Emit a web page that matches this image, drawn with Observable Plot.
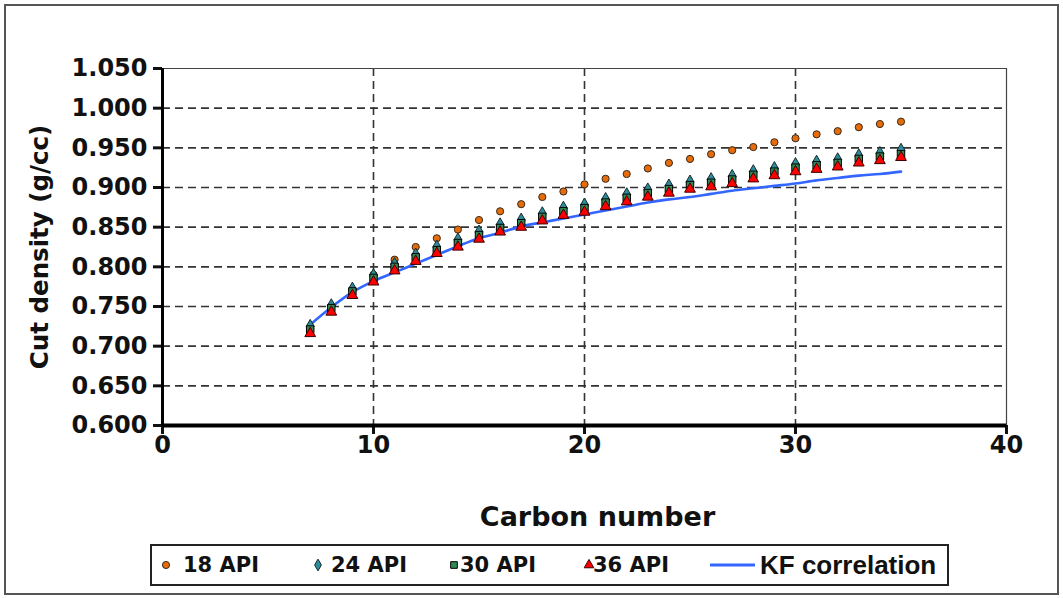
<!DOCTYPE html>
<html>
<head>
<meta charset="utf-8">
<script src="https://cdn.jsdelivr.net/npm/d3@7"></script>
<script src="https://cdn.jsdelivr.net/npm/@observablehq/plot@0.6"></script>
<style>
  html, body { margin: 0; padding: 0; background: #fff; }
  #wrap { position: relative; width: 1063px; height: 598px; }
  #frame { position: absolute; left: 4px; top: 4px; width: 1051px; height: 587px; border: 2px solid #555; }
  #chart { position: absolute; left: 0; top: 0; }
  #legend { position: absolute; left: 150px; top: 544px; width: 795px; height: 38px; border: 2px solid #222; background: #fff; }
  .sym { position: absolute; top: 11px; }
  .lab { position: absolute; top: 0; height: 38px; line-height: 38px; font-weight: bold; color: #111; white-space: nowrap; }
</style>
</head>
<body>
<div id="wrap">
  <div id="frame"></div>
  <div id="chart"></div>
  <div id="legend"></div>
</div>
<script>
const carbon = [7, 8, 9, 10, 11, 12, 13, 14, 15, 16, 17, 18, 19, 20, 21, 22, 23, 24, 25, 26, 27, 28, 29, 30, 31, 32, 33, 34, 35];
const api18 = [0.722, 0.750, 0.771, 0.790, 0.809, 0.825, 0.836, 0.847, 0.859, 0.870, 0.879, 0.888, 0.895, 0.904, 0.911, 0.917, 0.924, 0.931, 0.936, 0.942, 0.947, 0.951, 0.957, 0.962, 0.967, 0.971, 0.976, 0.980, 0.983];
const api24 = [0.725, 0.751, 0.772, 0.789, 0.803, 0.815, 0.825, 0.834, 0.844, 0.853, 0.859, 0.867, 0.874, 0.878, 0.885, 0.891, 0.897, 0.902, 0.907, 0.910, 0.914, 0.920, 0.924, 0.929, 0.932, 0.935, 0.940, 0.943, 0.947];
const api30 = [0.721, 0.748, 0.769, 0.786, 0.800, 0.812, 0.821, 0.830, 0.840, 0.849, 0.855, 0.863, 0.870, 0.874, 0.881, 0.887, 0.893, 0.898, 0.903, 0.906, 0.910, 0.916, 0.920, 0.925, 0.928, 0.931, 0.936, 0.939, 0.942];
const api36 = [0.716, 0.743, 0.764, 0.781, 0.795, 0.807, 0.817, 0.825, 0.835, 0.844, 0.850, 0.858, 0.865, 0.869, 0.876, 0.882, 0.888, 0.893, 0.898, 0.901, 0.905, 0.911, 0.915, 0.920, 0.923, 0.926, 0.931, 0.934, 0.938];
const kfCorrelation = [0.727, 0.749, 0.768, 0.782, 0.793, 0.804, 0.815, 0.826, 0.836, 0.843, 0.851, 0.856, 0.861, 0.866, 0.871, 0.876, 0.881, 0.885, 0.888, 0.892, 0.896, 0.899, 0.902, 0.905, 0.909, 0.912, 0.915, 0.917, 0.920];

const seriesNames = ["18 API", "24 API", "30 API", "36 API", "KF correlation"];
const xTicks = [0, 10, 20, 30, 40];
const yTicks = [0.600, 0.650, 0.700, 0.750, 0.800, 0.850, 0.900, 0.950, 1.000, 1.050];
const xGrid = [10, 20, 30];
const yGrid = [0.650, 0.700, 0.750, 0.800, 0.850, 0.900, 0.950, 1.000];

const rows = (vals) => carbon.map((c, i) => ({c, v: vals[i]}));

const styles = {
  "18 API": {symbol: "circle", r: 3.6, fill: "#e46c0a", stroke: "#3a2a1a"},
  "24 API": {symbol: "diamond", r: 4.2, fill: "#2c8c9c", stroke: "#1a2a2a"},
  "30 API": {symbol: "square", r: 4.2, fill: "#2e8b57", stroke: "#000"},
  "36 API": {symbol: "triangle", r: 4.0, fill: "#ff0000", stroke: "#3a0000"}
};

const wide = "'DejaVu Sans', Verdana, sans-serif";

const chart = Plot.plot({
  width: 1063,
  height: 540,
  marginLeft: 162,
  marginRight: 57,
  marginTop: 68,
  marginBottom: 115,
  x: {domain: [0, 40]},
  y: {domain: [0.6, 1.05]},
  style: {fontFamily: wide, background: "transparent", color: "#111"},
  marks: [
    Plot.ruleY(yGrid, {stroke: "#333", strokeWidth: 1.6, strokeDasharray: "8,5"}),
    Plot.ruleX(xGrid, {stroke: "#333", strokeWidth: 1.6, strokeDasharray: "8,5"}),
    Plot.ruleY([1.05], {stroke: "#444", strokeWidth: 1}),
    Plot.ruleX([40], {stroke: "#444", strokeWidth: 1.2}),
    Plot.line(rows(kfCorrelation), {x: "c", y: "v", stroke: "#3366ff", strokeWidth: 2.6, curve: "monotone-x"}),
    Plot.dot(rows(api18), {x: "c", y: "v", ...styles["18 API"], strokeWidth: 1}),
    Plot.dot(rows(api24), {x: "c", y: "v", ...styles["24 API"], strokeWidth: 1}),
    Plot.dot(rows(api30), {x: "c", y: "v", ...styles["30 API"], strokeWidth: 1}),
    Plot.dot(rows(api36), {x: "c", y: "v", ...styles["36 API"], strokeWidth: 1}),
    Plot.axisY({ticks: yTicks, tickFormat: d3.format(".3f"), tickSize: 9, tickPadding: 6, strokeWidth: 3, fontSize: 24, fontWeight: "bold", label: null}),
    Plot.axisX({ticks: xTicks, tickSize: 9, tickPadding: 1, strokeWidth: 3, fontSize: 24, fontWeight: "bold", label: null}),
    Plot.ruleX([0], {stroke: "#000", strokeWidth: 3}),
    Plot.ruleY([0.6], {stroke: "#000", strokeWidth: 4}),
    Plot.text(["Cut density (g/cc)"], {text: d => d, frameAnchor: "left", textAnchor: "middle", lineAnchor: "middle", dx: -122, rotate: -90, fontSize: 24.5, fontWeight: "bold"}),
    Plot.text(["Carbon number"], {text: d => d, frameAnchor: "bottom", textAnchor: "middle", lineAnchor: "middle", dy: 92, dx: 13, fontSize: 27, fontWeight: "bold"})
  ]
});
document.getElementById("chart").appendChild(chart);

// Legend (HTML, below the plot area)
const legend = document.getElementById("legend");
const symbolPath = {
  circle: d3.symbol(d3.symbolCircle, 40)(),
  diamond: d3.symbol(d3.symbolDiamond, 40)(),
  square: d3.symbol(d3.symbolSquare, 44)(),
  triangle: d3.symbol(d3.symbolTriangle, 40)()
};
const legendItems = [
  {name: seriesNames[0], sym: 14, text: 31},
  {name: seriesNames[1], sym: 166, text: 179},
  {name: seriesNames[2], sym: 302, text: 308},
  {name: seriesNames[3], sym: 437, text: 441},
  {name: seriesNames[4], sym: 581, text: 608}
];
legendItems.forEach(p => {
  const isLine = p.name === "KF correlation";
  const s = document.createElement("div");
  s.className = "sym";
  if (isLine) {
    s.style.left = (p.sym - 23) + "px";
    s.innerHTML = `<svg width="46" height="16"><line x1="0" y1="8" x2="45" y2="8" stroke="#3366ff" stroke-width="2.8"/></svg>`;
  } else {
    const st = styles[p.name];
    s.style.left = (p.sym - 8) + "px";
    s.innerHTML = `<svg width="16" height="16"><path transform="translate(8,8)" d="${symbolPath[st.symbol]}" fill="${st.fill}" stroke="${st.stroke}" stroke-width="1"/></svg>`;
  }
  legend.appendChild(s);
  const t = document.createElement("div");
  t.className = "lab";
  t.style.left = p.text + "px";
  if (isLine) {
    t.style.fontFamily = "'Liberation Sans', Arial, sans-serif";
    t.style.fontSize = "26px";
  } else {
    t.style.fontFamily = wide;
    t.style.fontSize = "21px";
  }
  t.textContent = p.name;
  legend.appendChild(t);
});
</script>
</body>
</html>
